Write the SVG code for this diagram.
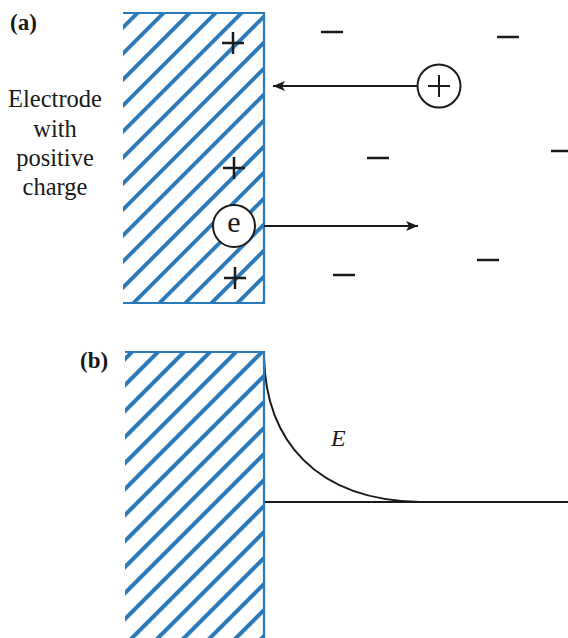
<svg xmlns="http://www.w3.org/2000/svg" width="568" height="638" viewBox="0 0 568 638">
  <style>
    .lbl { font-family: 'Liberation Serif', 'DejaVu Serif', serif; fill: #1a1a1a; }
    .bold { font-weight: bold; font-size: 23px; }
    .side { font-size: 24.5px; text-anchor: middle; }
    .sign { stroke: #1a1a1a; stroke-width: 2.5; fill: none; }
    .edge { stroke: #2a79b8; stroke-width: 2.2; fill: none; }
    .conn { stroke: #1a1a1a; stroke-width: 2; fill: none; }
    .ring { stroke: #1a1a1a; stroke-width: 2; fill: #fff; }
  </style>
  <defs>
    <pattern id="hatchA" patternUnits="userSpaceOnUse" x="12.5" y="0" width="18.385" height="40" patternTransform="rotate(45)">
      <rect x="0" y="0" width="4" height="40" fill="#2a79b8"/>
    </pattern>
    <pattern id="hatchB" patternUnits="userSpaceOnUse" x="9.3" y="0" width="18.385" height="40" patternTransform="rotate(45)">
      <rect x="0" y="0" width="4" height="40" fill="#2a79b8"/>
    </pattern>
    <marker id="arrow" markerUnits="userSpaceOnUse" markerWidth="14" markerHeight="12" refX="12" refY="5" orient="auto">
      <path d="M0,0 L12,5 L0,10 L3,5 z" fill="#1a1a1a"/>
    </marker>
  </defs>

  <g id="panel-a-label">
    <text class="lbl bold" x="10" y="30">(a)</text>
  </g>

  <g id="electrode-a">
    <rect x="123" y="13" width="141" height="290" fill="url(#hatchA)"/>
    <path class="edge" d="M123,13 H264 V303 H123"/>
  </g>

  <g id="electrode-label">
    <text class="lbl side" x="55" y="107">Electrode</text>
    <text class="lbl side" x="55" y="137">with</text>
    <text class="lbl side" x="55" y="166">positive</text>
    <text class="lbl side" x="55" y="195">charge</text>
  </g>

  <g id="surface-charges">
    <path class="sign" d="M222,43 H244 M233,32 V54"/>
    <path class="sign" d="M223,168 H245 M234,157 V179"/>
    <path class="sign" d="M224,278 H246 M235,267 V289"/>
  </g>

  <g id="negative-charges">
    <path class="sign" d="M321,32 H343"/>
    <path class="sign" d="M497,37 H519"/>
    <path class="sign" d="M367,158 H389"/>
    <path class="sign" d="M551,151 H568"/>
    <path class="sign" d="M477,260 H499"/>
    <path class="sign" d="M333,275 H355"/>
  </g>

  <g id="connectors">
    <line class="conn" x1="417" y1="86" x2="273" y2="86" marker-end="url(#arrow)"/>
    <line class="conn" x1="264" y1="226" x2="418" y2="226" marker-end="url(#arrow)"/>
    <path class="conn" d="M264,357 C266,440 315,500 420,502"/>
    <line class="conn" x1="264" y1="502" x2="568" y2="502"/>
  </g>

  <g id="positive-ion">
    <circle class="ring" cx="439" cy="86" r="21.5"/>
    <path class="sign" style="stroke-width:2" d="M428,86 H450 M439,75 V97"/>
  </g>

  <g id="electron">
    <circle class="ring" cx="234" cy="226" r="21"/>
    <text class="lbl" x="234" y="232" font-size="30" text-anchor="middle">e</text>
  </g>

  <g id="panel-b-label">
    <text class="lbl bold" x="80" y="368">(b)</text>
  </g>

  <g id="electrode-b">
    <rect x="125" y="352" width="139" height="286" fill="url(#hatchB)"/>
    <path class="edge" d="M125,352 H264 V638"/>
  </g>

  <g id="field-label">
    <text class="lbl" x="331" y="446" font-size="24" font-style="italic">E</text>
  </g>
</svg>
